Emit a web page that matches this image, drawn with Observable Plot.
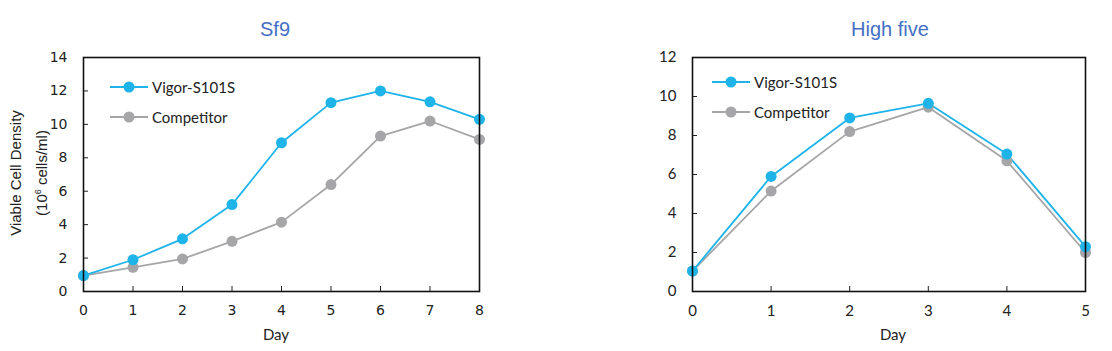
<!DOCTYPE html>
<html><head><meta charset="utf-8">
<script src="https://cdn.jsdelivr.net/npm/d3@7"></script>
<script src="https://cdn.jsdelivr.net/npm/@observablehq/plot@0.6"></script>
<style>
body{margin:0;background:#fff}
#root{position:relative;width:1112px;height:351px;overflow:hidden;background:#fff}
.panel{position:absolute;top:0}
.title{position:absolute;font-family:"Liberation Sans",Arial,sans-serif;font-size:20px;color:#4470C4;transform:translateX(-50%);white-space:nowrap}
.xlab{position:absolute;font-family:Lato,"Open Sans",sans-serif;font-size:15px;color:#222;transform:translateX(-50%)}
.ylab{position:absolute;font-family:"Liberation Sans",Arial,sans-serif;font-size:15px;color:#222;transform:translate(-50%,-50%) rotate(-90deg);white-space:nowrap;text-align:center;line-height:22px}
.legend{position:absolute;font-family:Lato,"Open Sans",sans-serif;font-size:15px;color:#222}
.legend .row{display:flex;align-items:center;height:30px}
.legend svg{margin-right:4px}
</style>
</head><body><div id="root"></div>
<script>
// ---- data ----
const seriesNames = ["Vigor-S101S", "Competitor"];
const seriesColors = ["#1EB4E9", "#A6A6A8"];

const sf9Days = [0, 1, 2, 3, 4, 5, 6, 7, 8];
const sf9Vigor = [0.95, 1.9, 3.15, 5.2, 8.9, 11.3, 12.0, 11.35, 10.3];
const sf9Competitor = [0.95, 1.45, 1.95, 3.0, 4.15, 6.4, 9.3, 10.2, 9.1];
const sf9YTicks = [0, 2, 4, 6, 8, 10, 12, 14];

const hfDays = [0, 1, 2, 3, 4, 5];
const hfVigor = [1.05, 5.9, 8.9, 9.65, 7.05, 2.3];
const hfCompetitor = [1.05, 5.15, 8.2, 9.45, 6.7, 2.0];
const hfYTicks = [0, 2, 4, 6, 8, 10, 12];

const titles = ["Sf9", "High five"];
const xLabel = "Day";
const yLabel = ["Viable Cell Density", "(10<sup style='font-size:9px'>6</sup> cells/ml)"];

const root = document.getElementById("root");

function makeChart({days, vigor, comp, yMax, yTicks, width, marginLeft, marginRight, fontFamily, fontSize}) {
  const data = [
    ...days.map((d, i) => ({day: d, v: comp[i], s: seriesNames[1]})),
    ...days.map((d, i) => ({day: d, v: vigor[i], s: seriesNames[0]}))
  ];
  return Plot.plot({
    width, height: 351,
    marginLeft, marginRight, marginTop: 57, marginBottom: 60,
    style: {fontFamily, fontSize: fontSize + "px", color: "#222", background: "transparent", overflow: "visible"},
    x: {domain: [0, days[days.length - 1]], ticks: days, tickFormat: "d", tickSize: -5, tickPadding: 19, label: null},
    y: {domain: [0, yMax], ticks: yTicks, tickFormat: "d", tickSize: -5, tickPadding: 21, label: null},
    color: {domain: seriesNames, range: seriesColors},
    marks: [
      Plot.line(data, {x: "day", y: "v", z: "s", stroke: "s", strokeWidth: 1.8}),
      Plot.dot(data, {x: "day", y: "v", fill: "s", r: 5.5}),
      Plot.frame({stroke: "#111", strokeWidth: 1.6})
    ]
  });
}

function addPanel(left, svg) {
  const div = document.createElement("div");
  div.className = "panel";
  div.style.left = left + "px";
  div.appendChild(svg);
  root.appendChild(div);
}
function addHTML(cls, html, styles) {
  const d = document.createElement("div");
  d.className = cls;
  d.innerHTML = html;
  Object.assign(d.style, styles);
  root.appendChild(d);
  return d;
}
function addLegend(left, top) {
  const lg = addHTML("legend", "", {left: left + "px", top: top + "px"});
  seriesNames.forEach((n, i) => {
    const row = document.createElement("div");
    row.className = "row";
    row.innerHTML = `<svg width="38" height="12"><line x1="0" x2="38" y1="6" y2="6" stroke="${seriesColors[i]}" stroke-width="1.8"/><circle cx="19" cy="6" r="5.5" fill="${seriesColors[i]}"/></svg><span>${n}</span>`;
    lg.appendChild(row);
  });
}

addPanel(0, makeChart({days: sf9Days, vigor: sf9Vigor, comp: sf9Competitor, yMax: 14, yTicks: sf9YTicks,
  width: 500, marginLeft: 83, marginRight: 21, fontFamily: "'DejaVu Sans', Verdana, sans-serif", fontSize: 14}));
addPanel(600, makeChart({days: hfDays, vigor: hfVigor, comp: hfCompetitor, yMax: 12, yTicks: hfYTicks,
  width: 512, marginLeft: 92, marginRight: 27, fontFamily: "Lato, 'Open Sans', sans-serif", fontSize: 15}));

addHTML("title", titles[0], {left: "275px", top: "18px"});
addHTML("title", titles[1], {left: "890px", top: "18px"});
addHTML("xlab", xLabel, {left: "276px", top: "325px"});
addHTML("xlab", xLabel, {left: "893px", top: "325px"});
addHTML("ylab", yLabel.join("<br>"), {left: "29px", top: "173px"});
addLegend(110, 72);
addLegend(712, 67);
</script>
</body></html>
